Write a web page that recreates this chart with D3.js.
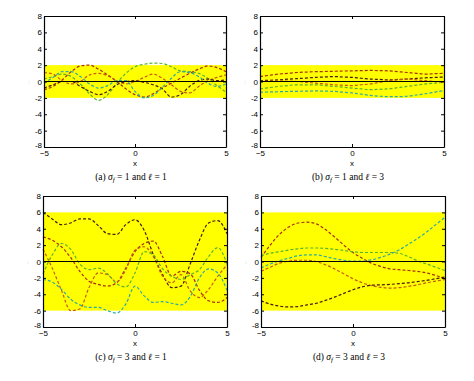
<!DOCTYPE html>
<html><head><meta charset="utf-8">
<script src="https://d3js.org/d3.v7.min.js"></script>
<style>body{margin:0;background:#fff}svg{display:block}</style>
</head><body>
<svg id="chart" width="474" height="381"></svg>
<script>
const xs = [-5,-4.5,-4,-3.5,-3,-2.5,-2,-1.5,-1,-0.5,0,0.5,1,1.5,2,2.5,3,3.5,4,4.5,5];
const xTicks = [-5,0,5];
const yTicks = [-8,-6,-4,-2,0,2,4,6,8];
const sigmas = [1,1,3,3];
const ells = [1,3,1,3];
const labels = ["(a)","(b)","(c)","(d)"];
const colors = ["#4a1c0c","#a8300c","#c85a14","#5cb234","#2eaaa6"];

// panel (a) sigma_f=1, l=1
const a1 = [0.3,0.6,0.9,0.6,-0.3,-1.5,-2.3,-1.6,-0.2,1.0,1.8,2.1,2.25,2.2,1.8,1.3,1.2,1.0,0.4,-0.5,-1.3];
const a2 = [-1.0,-0.6,0.2,1.2,1.9,2.0,1.5,0.8,0.0,-0.9,-1.6,-1.9,-1.5,-0.8,-0.2,0.4,1.0,1.5,1.9,1.7,1.2];
const a3 = [1.1,0.9,0.1,-0.3,0.0,0.8,1.0,0.7,0.1,-0.3,0.0,0.5,0.9,0.4,-0.4,-1.2,-1.4,-0.6,0.1,0.5,0.8];
const a4 = [-0.8,-0.4,0.0,0.0,-0.6,-1.2,-1.6,-1.2,-0.4,0.0,0.1,-0.1,-0.4,-0.9,-1.9,-1.6,-0.6,0.1,0.3,0.1,0.2];
const a5 = [-0.2,0.5,1.2,1.2,0.6,-0.3,-0.8,-0.5,0.1,0.1,-1.2,-2.0,-1.7,-0.7,0.4,1.2,1.1,0.6,-0.2,-0.6,-0.3];
// panel (b) sigma_f=1, l=3
const b1 = [0.6,0.75,0.9,1.0,1.1,1.15,1.2,1.22,1.25,1.28,1.3,1.33,1.35,1.33,1.3,1.2,1.1,1.0,0.9,0.95,1.0];
const b2 = [0.1,0.15,0.2,0.28,0.35,0.42,0.5,0.55,0.6,0.55,0.5,0.4,0.3,0.25,0.2,0.25,0.3,0.38,0.45,0.5,0.55];
const b3 = [-0.9,-0.75,-0.6,-0.5,-0.4,-0.4,-0.4,-0.5,-0.6,-0.7,-0.8,-0.9,-1.0,-0.95,-0.9,-0.75,-0.6,-0.45,-0.3,-0.2,-0.1];
const b4 = [-1.3,-1.28,-1.25,-1.22,-1.2,-1.18,-1.15,-1.18,-1.2,-1.3,-1.4,-1.55,-1.7,-1.8,-1.85,-1.85,-1.8,-1.65,-1.5,-1.3,-1.1];
const b5 = [0.0,0.03,0.05,0.03,0.0,-0.1,-0.2,-0.3,-0.4,-0.45,-0.5,-0.4,-0.3,-0.1,0.1,0.2,0.3,0.2,0.1,0.0,-0.1];
// panel (c) sigma_f=3, l=1
const c1 = [6.0,5.2,4.5,4.7,5.2,5.2,4.4,3.4,3.3,4.5,5.1,3.8,0.8,-1.6,-3.2,-3.0,-0.3,2.6,4.7,5.0,3.4];
const c2 = [3.0,2.6,1.8,0.5,-1.2,-2.4,-2.8,-3.0,-2.6,-0.8,1.2,2.2,2.5,0.6,-1.8,-1.2,-1.5,-3.5,-4.8,-5.0,-4.4];
const c3 = [1.5,-0.8,-3.5,-6.0,-5.8,-3.2,-1.4,-1.6,-2.5,-1.0,1.4,1.8,0.6,-1.8,-2.6,-1.6,-3.6,-4.4,-3.4,-1.8,-0.4];
const c4 = [-1.5,0.8,2.2,1.5,-0.3,-1.0,-0.8,-1.5,-2.7,-3.1,-1.4,1.2,0.8,-0.9,-1.8,-2.2,-1.6,-1.0,0.6,1.7,-0.3];
const c5 = [-2.2,-2.5,-3.4,-4.6,-5.3,-5.6,-5.6,-6.0,-6.3,-5.2,-3.0,-4.2,-5.0,-4.9,-5.1,-5.3,-4.3,-2.0,-0.9,-1.4,-3.5];
// panel (d) sigma_f=3, l=3
const d1 = [0.5,2.0,3.3,4.2,4.7,4.8,4.6,3.9,3.0,2.0,1.1,0.4,-0.2,-0.6,-0.9,-1.0,-1.1,-1.2,-1.4,-1.7,-2.1];
const d2 = [0.7,1.0,1.2,1.4,1.55,1.65,1.65,1.6,1.5,1.35,1.2,1.1,1.1,1.1,1.1,1.0,0.6,0.1,-0.3,-0.7,-1.1];
const d3s = [-0.8,-0.3,0.1,0.4,0.7,0.8,0.8,0.6,0.35,0.15,0.05,0.05,0.2,0.5,0.9,1.4,2.1,2.8,3.6,4.5,5.4];
const d4 = [-1.2,-0.7,-0.2,0.05,0.15,0.15,0.0,-0.4,-0.9,-1.5,-2.1,-2.6,-2.95,-3.15,-3.25,-3.2,-3.05,-2.85,-2.6,-2.4,-2.2];
const d5 = [-4.8,-5.2,-5.45,-5.55,-5.5,-5.3,-5.1,-4.75,-4.35,-3.9,-3.45,-3.1,-2.9,-2.85,-2.8,-2.7,-2.6,-2.45,-2.3,-2.1,-1.9];

const samples = [[a1,a2,a3,a4,a5],[b1,b2,b3,b4,b5],[c1,c2,c3,c4,c5],[d1,d2,d3s,d4,d5]];
const colorOrder = [[3,1,2,0,4],[1,0,3,4,2],[0,1,2,3,4],[1,3,4,2,0]];

const boxes = [
  {x0:44,x1:226,y0:16,y1:147,cap:180},
  {x0:260,x1:444,y0:16,y1:147,cap:180},
  {x0:43,x1:227,y0:196,y1:327,cap:360},
  {x0:261,x1:445,y0:196,y1:327,cap:360}
];

const svg = d3.select("#chart");
boxes.forEach((b,i)=>{
  const x = d3.scaleLinear().domain([-5,5]).range([b.x0,b.x1]);
  const y = d3.scaleLinear().domain([-8,8]).range([b.y1,b.y0]);
  const g = svg.append("g");
  const s = sigmas[i];
  g.append("rect").attr("x",x(-5)).attr("width",x(5)-x(-5))
    .attr("y",y(2*s)).attr("height",y(-2*s)-y(2*s)).attr("fill","#ffff00");
  const line = d3.line().x((d,k)=>x(xs[k])).y(d=>y(d)).curve(d3.curveMonotoneX);
  samples[i].forEach((ser,j)=>{
    g.append("path").attr("d",line(ser)).attr("fill","none")
      .attr("stroke",colors[colorOrder[i][j]]).attr("stroke-width",1.2)
      .attr("stroke-dasharray","3,2");
  });
  g.append("line").attr("x1",x(-5)).attr("x2",x(5)).attr("y1",y(0)).attr("y2",y(0))
    .attr("stroke","#000").attr("stroke-width",1);
  const ax = g.append("g").attr("transform",`translate(0,${b.y1})`)
    .call(d3.axisBottom(x).tickValues(xTicks).tickSizeInner(-3).tickSizeOuter(0).tickPadding(3).tickFormat(d3.format("d")));
  const ay = g.append("g").attr("transform",`translate(${b.x0},0)`)
    .call(d3.axisLeft(y).tickValues(yTicks).tickSizeInner(-3).tickSizeOuter(0).tickPadding(2).tickFormat(d=>d<0?"-"+(-d):d));
  const at = g.append("g").attr("transform",`translate(0,${b.y0})`)
    .call(d3.axisTop(x).tickValues(xTicks).tickSizeInner(-3).tickSizeOuter(0).tickFormat(""));
  const ar = g.append("g").attr("transform",`translate(${b.x1},0)`)
    .call(d3.axisRight(y).tickValues(yTicks).tickSizeInner(-3).tickSizeOuter(0).tickFormat(""));
  [ax,ay,at,ar].forEach(a=>{
    a.select(".domain").attr("stroke","#000").attr("stroke-width",1.2);
    a.selectAll(".tick line").attr("stroke","#000");
    a.selectAll("text").attr("font-family","Liberation Sans, Arial, sans-serif").attr("font-size",8).attr("fill","#000");
  });
  ay.selectAll(".tick").filter(d=>d===-8).select("text").attr("dy","0.1em");
  g.append("text").attr("x",x(0)).attr("y",b.y1+19).attr("text-anchor","middle")
    .attr("font-family","Liberation Sans, Arial, sans-serif").attr("font-size",8).text("x");
  g.append("text").attr("x",b.x0-15).attr("y",y(0)+2).attr("text-anchor","middle")
    .attr("font-family","Liberation Sans, Arial, sans-serif").attr("font-size",6).attr("fill","#aaa").text(":");
  const cap = g.append("text").attr("x",(b.x0+b.x1)/2-4).attr("y",b.cap).attr("text-anchor","middle")
    .attr("font-family","Liberation Serif, DejaVu Serif, serif").attr("font-size",9.5).attr("fill","#000");
  cap.append("tspan").text(labels[i]+" ");
  cap.append("tspan").attr("font-style","italic").text("\u03c3");
  cap.append("tspan").attr("font-style","italic").attr("font-size",7).attr("dy",2).text("f");
  cap.append("tspan").attr("dy",-2).text(" = "+s+" and ");
  cap.append("tspan").attr("font-style","italic").text("\u2113");
  cap.append("tspan").text(" = "+ells[i]);
});
</script>
</body></html>
